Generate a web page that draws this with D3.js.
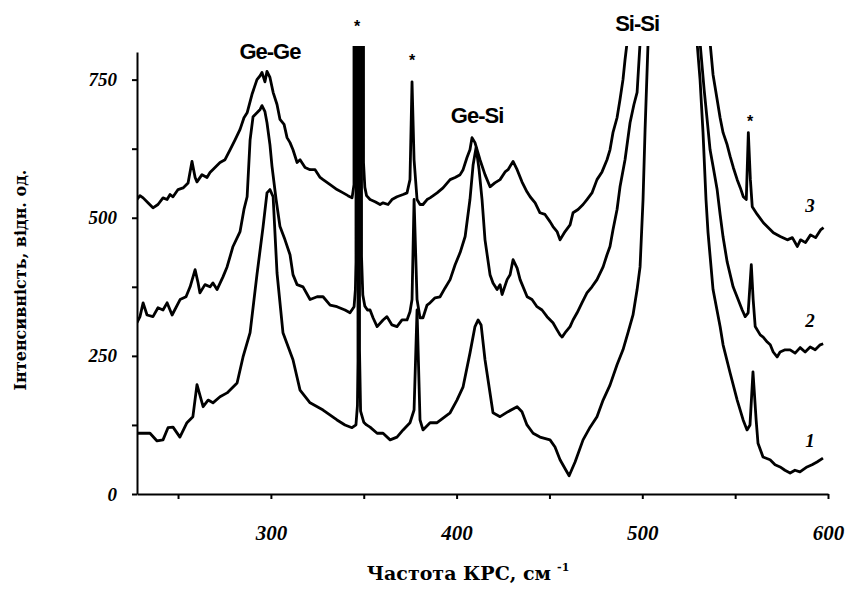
<!DOCTYPE html>
<html>
<head>
<meta charset="utf-8">
<script src="https://cdn.jsdelivr.net/npm/d3@7"></script>
<style>
  body { margin: 0; background: #fff; }
  .tick text { font-family: "Liberation Serif", serif; font-weight: bold; font-style: italic; }
  .peak { font-family: "Liberation Sans", Arial, sans-serif; font-weight: bold; letter-spacing: -1px; }
</style>
</head>
<body>
<div class="chart"></div>
<script>
var size = { width: 845, height: 595 };

// Raman spectra: [wavenumber cm-1, intensity]
var curve1 = [[227.9,110],[229.5,110],[234.9,110],[238.7,96],[241.9,98],[244.6,120],[247.3,121],[251,103],[254.8,129],[258,140],[260.2,198],[263.5,158],[266.2,170],[268.8,165],[272.6,176],[276.4,183],[281.8,201],[285,248],[288.8,292],[292.5,397],[295.8,484],[297.9,545],[299.5,551],[301.2,538],[303.3,400],[306.5,292],[311.9,243],[315.7,188],[321.1,165],[328.1,152],[335.6,134],[339.9,125],[343.7,120],[345.8,125],[346.6,160],[346.9,240],[346.9,1500],[347.72,1500],[347.72,260],[348.3,150],[350,130],[351.5,125],[353.4,121],[357.2,110],[360.4,110],[364.2,98],[367.9,103],[371.2,116],[374.9,129],[377.1,152],[378.7,333],[380.3,134],[381.9,116],[385.7,129],[389.5,129],[393.8,140],[396.5,147],[400.2,170],[403.5,194],[407.2,255],[409.9,303],[411.6,315],[413.2,306],[415.3,243],[419.6,147],[423.4,140],[427.7,149],[432.6,158],[435.2,149],[437.9,125],[441.2,110],[444.9,103],[450.3,98],[453,85],[455.7,62],[458.9,43],[460.6,33],[463.8,58],[468.1,98],[471.9,121],[475.6,140],[478.9,170],[482.6,197],[486.4,234],[489.6,261],[492.3,292],[495,324],[497.2,370],[498.8,411],[500.4,533],[501.5,660],[503.1,817],[506,1200],[518,3000],[527,1200],[529.5,817],[531.1,750],[532.7,654],[534.3,533],[535.4,473],[538.1,370],[541.9,303],[543.5,270],[547.3,219],[551.1,170],[554.3,134],[556.4,116],[558,125],[559.6,221],[561.3,134],[562.3,92],[565,67],[568.8,62],[571.5,53],[574.2,49],[576.8,43],[579.6,38],[582.2,43],[584.9,40],[588.7,49],[591.4,53],[594.1,58],[597.3,65]];

var curve2 = [[227.9,310],[229.5,321],[231.2,346],[233.3,324],[236.5,321],[239.2,337],[241.9,333],[244.1,346],[246.8,324],[251.1,352],[254.3,357],[256.5,375],[259.2,406],[260.8,382],[261.8,364],[264.5,379],[267.2,375],[268.8,382],[271,370],[274.2,393],[276.4,411],[279.6,448],[283.4,475],[285.5,515],[287.2,538],[288.8,641],[290.4,683],[292.5,690],[294.2,696],[295.2,703],[296.8,692],[297.9,672],[299.5,632],[300.6,593],[302.8,533],[304.9,484],[307.6,460],[310.3,433],[311.9,397],[314.1,379],[317.3,375],[321.1,352],[324.9,357],[328.1,357],[331.9,342],[335.6,339],[339.9,333],[342.6,328],[344.8,339],[345.5,370],[345.83,420],[345.83,1500],[348.8,1500],[348.8,430],[349.5,360],[350.6,340],[352,333],[353.4,333],[355,319],[357.2,303],[360.4,315],[362.5,321],[365.2,306],[367.9,303],[370.6,315],[373.3,315],[374.9,330],[376,352],[377.1,533],[378.7,352],[380.3,319],[381.9,319],[384.1,342],[385.7,346],[388.4,355],[391.1,357],[393.8,373],[396.5,388],[399.2,415],[401.9,437],[404.6,466],[407.2,533],[408.9,596],[410.5,627],[412.1,587],[413.7,533],[415.3,460],[418,397],[419.6,382],[421.8,370],[423.4,379],[424.5,361],[427.2,388],[428.8,397],[430.4,424],[432.6,409],[434.2,388],[438,357],[440.6,352],[443.3,339],[446,333],[448.7,321],[451.9,310],[454.1,297],[455.7,288],[456.8,284],[458.9,294],[461.1,303],[462.7,315],[464.9,328],[467.5,346],[470.2,364],[472.9,375],[475.6,388],[478.9,411],[481,433],[482.6,448],[484.2,478],[486.4,515],[488,556],[490.7,605],[493.4,672],[495.5,705],[497.2,727],[498.8,817],[505,1200],[518,3000],[528,1200],[531.1,817],[533.3,732],[534.9,678],[536.5,623],[538.1,593],[540.3,551],[541.9,506],[543.5,465],[545.7,420],[548.9,375],[551.6,352],[553.8,333],[555.4,321],[557,328],[558.7,415],[559.7,352],[560.8,303],[563.5,288],[565.1,284],[567.3,275],[568.9,270],[570.5,257],[572.6,248],[574.2,257],[576.9,261],[579.6,261],[582.3,255],[585,265],[587.7,257],[590.4,266],[593.1,261],[595.8,270],[597.4,272]];

var curve3 = [[227.9,533],[229.5,540],[231.2,536],[233.8,527],[236.5,518],[239.2,524],[241.9,536],[244.1,533],[245.7,542],[247.3,538],[250,551],[252.7,554],[255.4,563],[257.5,602],[259.2,573],[260.2,565],[262.9,578],[265.6,573],[267.2,582],[269.9,591],[272.6,600],[275.3,605],[278,623],[280.7,641],[283.4,660],[285.5,681],[287.2,690],[289.8,723],[292.5,750],[294.2,757],[295.2,763],[296.8,746],[297.9,765],[299.5,754],[301.2,727],[303.3,705],[304.9,678],[307.1,669],[308.7,645],[310.3,636],[311.9,623],[314.1,600],[315.7,605],[318.4,591],[321.1,587],[323.8,587],[326.5,573],[328.1,569],[331.9,560],[335.6,551],[338.9,545],[341.5,540],[343.7,536],[344.75,560],[344.75,1500],[349.87,1500],[349.87,600],[350.6,555],[351.5,540],[353.4,533],[356.1,529],[358.8,524],[360.4,527],[363.1,524],[365.2,533],[367.9,538],[371.2,542],[373.3,545],[374.9,569],[376,746],[377.1,605],[378.7,533],[380.3,524],[381.9,524],[384.1,533],[385.7,536],[389.5,545],[392.7,554],[396.5,569],[399.2,573],[401.9,578],[403.5,587],[405.6,609],[407.2,623],[408.3,645],[409.9,636],[412.6,605],[415.3,578],[418,556],[420.6,563],[423.4,569],[426.1,583],[427.7,587],[430.4,602],[432.6,587],[435.2,565],[437.9,547],[439.6,538],[442.3,527],[444.9,509],[447.6,506],[450.3,493],[451.9,484],[454.1,475],[455.7,460],[458.4,475],[461.1,487],[462.7,509],[465.4,515],[468.1,524],[470.2,533],[472.9,545],[475.6,569],[478.3,583],[481,605],[482.6,623],[484.2,654],[486.4,681],[488,714],[489.6,750],[490.7,786],[491.8,817],[500,1200],[518,3000],[533,1200],[536.5,817],[538.1,759],[540.3,714],[541.9,681],[543.5,654],[545.7,632],[547.3,611],[549,591],[551.1,569],[552.8,554],[554.4,538],[556,533],[557.1,654],[558.2,569],[559.2,520],[561.9,506],[565.2,491],[567.9,482],[570.6,473],[574.3,466],[578.1,460],[580.8,464],[583.5,448],[585.2,460],[587.9,455],[590.6,469],[593.3,464],[596,478],[597.6,482]];

var curves = [curve1, curve2, curve3];
var curveNames = ["1", "2", "3"];
var curveLabelY = [98, 315, 522];

var xTicks = [250, 300, 350, 400, 450, 500, 550, 600];
var xLabels = [300, 400, 500, 600];
var yTicks = [0, 125, 250, 375, 500, 625, 750];
var yLabels = [0, 250, 500, 750];

// band labels and Raman-line asterisks: [x, y, text]
var bandLabels = [[299.5, 801, "Ge-Ge"], [411, 685, "Ge-Si"], [497.2, 852, "Si-Si"]];
var stars = [[346.4, 853], [376, 792], [558, 681]];

var xLabel = "Частота КРС, см";
var yLabel = "Інтенсивність,  відн. од.";

var x = d3.scaleLinear().domain([227.9, 600]).range([137, 828]);
var y = d3.scaleLinear().domain([0, 800]).range([494, 52]);

var svg = d3.select('.chart')
  .append('svg')
  .attr('width', size.width)
  .attr('height', size.height)
  .style('background', '#fff');

svg.append('defs').append('clipPath')
  .attr('id', 'plot')
  .append('rect')
  .attr('x', 137).attr('y', 46)
  .attr('width', 700).attr('height', 450);

// axes
var yAxis = d3.axisLeft(y)
  .tickValues(yTicks)
  .tickSize(5).tickSizeOuter(0)
  .tickPadding(15)
  .tickFormat(d => yLabels.indexOf(d) >= 0 ? d : "");

var xAxis = d3.axisBottom(x)
  .tickValues(xTicks)
  .tickSize(5).tickSizeOuter(0)
  .tickPadding(26)
  .tickFormat(d => xLabels.indexOf(d) >= 0 ? d : "");

var gy = svg.append('g')
  .attr('transform', 'translate(137,0)')
  .call(yAxis);
gy.selectAll('text').style('font-size', '19px');

var gx = svg.append('g')
  .attr('transform', 'translate(0,494)')
  .call(xAxis);
gx.selectAll('text').style('font-size', '21px');

svg.selectAll('.domain, .tick line')
  .attr('stroke', '#000')
  .attr('stroke-width', 2);

// spectra
var line = d3.line()
  .x(d => x(d[0]))
  .y(d => y(d[1]));

svg.append('g')
  .attr('clip-path', 'url(#plot)')
  .selectAll('path')
  .data(curves)
  .enter()
  .append('path')
  .attr('d', line)
  .attr('fill', 'none')
  .attr('stroke', '#000')
  .attr('stroke-width', 2.8)
  .attr('stroke-linejoin', 'round');

// curve numbers
svg.selectAll('.num')
  .data(curveNames)
  .enter()
  .append('text')
  .attr('class', 'num')
  .attr('x', 810)
  .attr('y', (d, i) => y(curveLabelY[i]))
  .attr('text-anchor', 'middle')
  .attr('dy', '0.35em')
  .style('font-family', '"Liberation Serif", serif')
  .style('font-style', 'italic')
  .style('font-weight', 'bold')
  .style('font-size', '19px')
  .text(d => d);

// band names
svg.selectAll('.peak')
  .data(bandLabels)
  .enter()
  .append('text')
  .attr('class', 'peak')
  .attr('x', d => x(d[0]))
  .attr('y', d => y(d[1]))
  .attr('text-anchor', 'middle')
  .attr('dy', '0.35em')
  .style('font-size', '22px')
  .text(d => d[2]);

svg.selectAll('.star')
  .data(stars)
  .enter()
  .append('text')
  .attr('class', 'star')
  .attr('x', d => x(d[0]))
  .attr('y', d => y(d[1]))
  .attr('text-anchor', 'middle')
  .attr('dy', '0.6em')
  .style('font-family', '"Liberation Sans", sans-serif')
  .style('font-weight', 'bold')
  .style('font-size', '16px')
  .text('*');

// axis titles
var xt = svg.append('text')
  .attr('x', 468)
  .attr('y', 580)
  .attr('text-anchor', 'middle')
  .style('font-family', '"DejaVu Serif", serif')
  .style('font-weight', 'bold')
  .style('font-size', '19px');
xt.append('tspan').text(xLabel);
xt.append('tspan')
  .attr('dx', 6)
  .attr('dy', -9)
  .style('font-size', '11px')
  .text('-1');

svg.append('text')
  .attr('transform', 'translate(26,280) rotate(-90)')
  .attr('text-anchor', 'middle')
  .style('font-family', '"DejaVu Serif", serif')
  .style('font-weight', 'bold')
  .style('font-size', '16px')
  .text(yLabel);
</script>
</body>
</html>
